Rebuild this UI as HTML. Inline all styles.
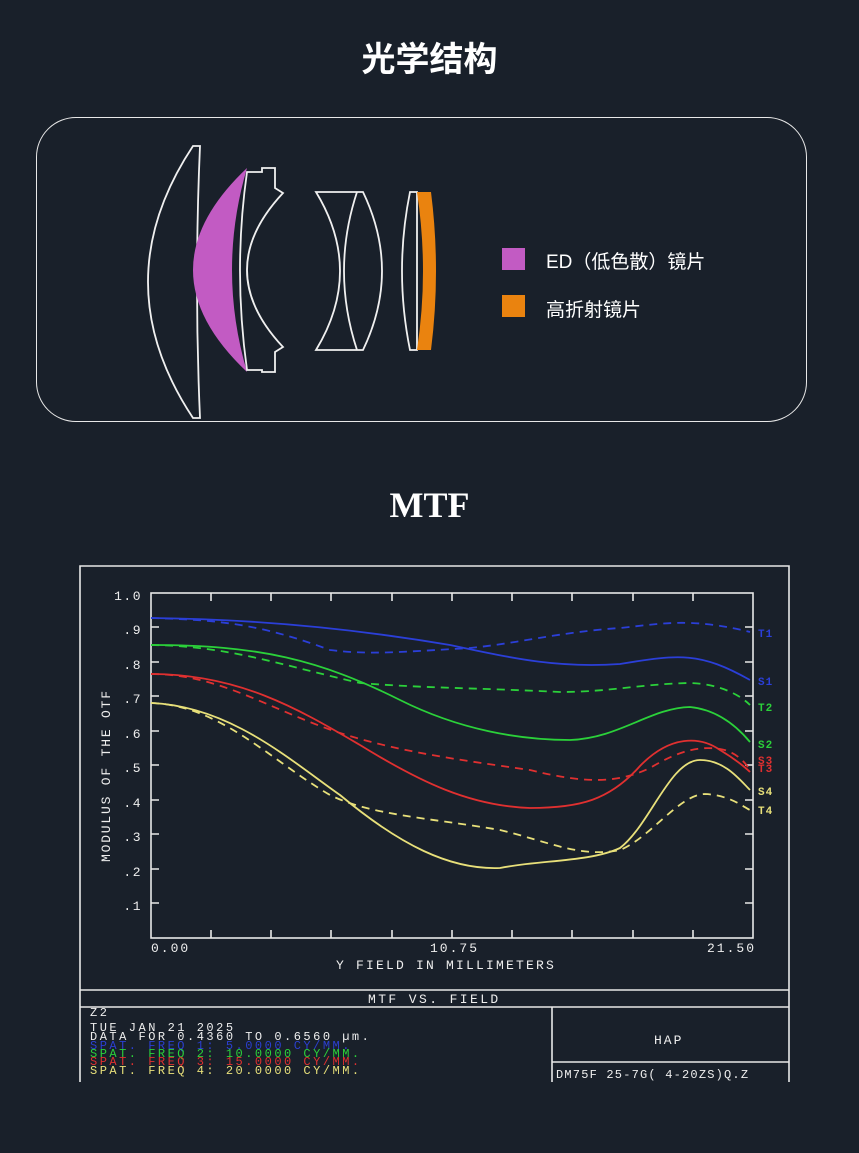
<!DOCTYPE html>
<html><head><meta charset="utf-8"><style>
html,body{margin:0;padding:0;background:#19202a;}
body{width:859px;height:1153px;position:relative;overflow:hidden;}
.t{position:absolute;color:#fff;font-family:"Liberation Sans","Noto Sans CJK SC",sans-serif;}
</style></head><body>
<div class="t" style="left:0;width:859px;top:32px;text-align:center;font-size:34px;font-weight:bold;font-family:'Noto Sans CJK SC',sans-serif;">光学结构</div>
<div style="position:absolute;left:36px;top:117px;width:769px;height:303px;border:1.5px solid #e8e8e8;border-radius:40px;"></div>
<svg style="position:absolute;left:0;top:0" width="859" height="1153" fill="none" stroke="#f0f0f0" stroke-width="1.8">
<path d="M193,146 L200,146 Q194,282 200,418 L193,418 Q103,282 193,146 Z"/>
<path d="M247,168 Q139,270 247,372 Q217,270 247,168 Z" fill="#c25bc3" stroke="none"/>
<path d="M247,172 L262,172 L262,168 L275,168 L275,188 L283,193 Q211,270 283,347 L275,352 L275,372 L262,372 L262,370 L247,370 Q233,270 247,172 Z"/>
<path d="M316,192 L363,192 Q401,271 363,350 L316,350 Q364,271 316,192 Z"/>
<path d="M357,192 Q331,271 357,350"/>
<path d="M410,192 L417,192 L417,350 L410,350 Q394,271 410,192 Z"/>
<path d="M417,192 L431,192 Q441,271 431,350 L417,350 Q429,271 417,192 Z" fill="#ea830f" stroke="none"/>
</svg>
<div style="position:absolute;left:502px;top:248px;width:23px;height:22px;background:#c25bc3"></div>
<div style="position:absolute;left:502px;top:295px;width:23px;height:22px;background:#ea830f"></div>
<div class="t" style="left:546px;top:247px;font-size:19px;">ED（低色散）镜片</div>
<div class="t" style="left:546px;top:295px;font-size:19px;">高折射镜片</div>
<div class="t" style="left:0;width:859px;top:484px;text-align:center;font-size:36px;font-weight:bold;font-family:'Liberation Serif',serif;">MTF</div>

<svg style="position:absolute;left:0;top:0" width="859" height="1153" font-family="Liberation Mono,monospace">
<g stroke="#e8e8e8" stroke-width="1.6" fill="none">
<path d="M80,1082 L80,566 L789,566 L789,1082"/>
<rect x="151" y="593" width="602" height="345"/>
<line x1="80" y1="990" x2="789" y2="990"/><line x1="80" y1="1007" x2="789" y2="1007"/>
<line x1="552" y1="1007" x2="552" y2="1082"/><line x1="552" y1="1062" x2="789" y2="1062"/>
<path d="M211,938v-8M271,938v-8M331,938v-8M392,938v-8M452,938v-8M512,938v-8M572,938v-8M633,938v-8M693,938v-8
M211,593v8M271,593v8M331,593v8M392,593v8M452,593v8M512,593v8M572,593v8M633,593v8M693,593v8
M151,903h8M151,869h8M151,834h8M151,800h8M151,765h8M151,731h8M151,696h8M151,662h8M151,627h8
M753,903h-8M753,869h-8M753,834h-8M753,800h-8M753,765h-8M753,731h-8M753,696h-8M753,662h-8M753,627h-8"/>
</g>
<g fill="#eee" font-size="13" text-anchor="end" letter-spacing="1.5">
<text x="142" y="600">1.0</text><text x="142" y="634">.9</text><text x="142" y="669">.8</text><text x="142" y="703">.7</text><text x="142" y="738">.6</text><text x="142" y="772">.5</text><text x="142" y="807">.4</text><text x="142" y="841">.3</text><text x="142" y="876">.2</text><text x="142" y="910">.1</text>
</g>
<g fill="#eee" font-size="13" letter-spacing="2">
<text x="151" y="952">0.00</text><text x="430" y="952">10.75</text><text x="707" y="952">21.50</text>
<text x="336" y="969" letter-spacing="2.2">Y FIELD IN MILLIMETERS</text>
<text x="110" y="862" transform="rotate(-90 110 862)" letter-spacing="1.8">MODULUS OF THE OTF</text>
<text x="368" y="1003" letter-spacing="2.4">MTF VS. FIELD</text>
<text x="654" y="1044">HAP</text>
<text x="556" y="1078" font-size="12" letter-spacing="1.2">DM75F  25-7G(   4-20ZS)Q.Z</text>
</g>
<g font-size="12" fill="#eee" letter-spacing="2.5">
<text x="90" y="1016">Z2</text>
<text x="90" y="1031">TUE JAN 21 2025</text>
<text x="90" y="1040">DATA FOR 0.4360 TO 0.6560 µm.</text>
<text x="90" y="1049" fill="#2b3fd0">SPAT. FREQ 1:   5.0000 CY/MM.</text>
<text x="90" y="1057" fill="#2bd13a">SPAT. FREQ 2:  10.0000 CY/MM.</text>
<text x="90" y="1065" fill="#e03030">SPAT. FREQ 3:  15.0000 CY/MM.</text>
<text x="90" y="1074" fill="#e8e07a">SPAT. FREQ 4:  20.0000 CY/MM.</text>
</g>
<g fill="none" stroke-width="1.8">
<path stroke="#2b3fd8" stroke-dasharray="8,6" d="M151,618 C220,620 260,624 330,650 C370,655 400,652 470,648 C520,643 560,632 620,628 C660,624 690,617 750,632"/>
<path stroke="#2b3fd8" d="M151,618 C250,619 350,628 450,645 C520,660 560,668 620,664 C680,654 700,652 750,680"/>
<path stroke="#2bd13a" stroke-dasharray="8,6" d="M151,645 C230,646 280,665 360,683 C420,688 480,688 560,692 C610,692 640,684 690,683 C720,684 740,695 750,705"/>
<path stroke="#2bd13a" d="M151,645 C260,645 320,660 400,700 C460,730 520,740 570,740 C620,738 650,708 690,707 C720,710 740,730 750,742"/>
<path stroke="#e03030" stroke-dasharray="8,6" d="M151,674 C220,674 270,710 340,733 C400,752 460,760 530,770 C590,785 620,782 650,768 C680,750 700,746 720,749 C740,752 750,770 750,770"/>
<path stroke="#e03030" d="M151,674 C240,674 300,710 360,745 C420,782 470,806 530,808 C580,808 610,800 640,766 C670,735 700,736 720,750 C740,762 750,772 750,772"/>
<path stroke="#e8e07a" stroke-dasharray="8,6" d="M151,703 C220,705 270,760 330,795 C370,815 430,818 500,830 C550,842 580,858 620,850 C650,838 680,794 705,794 C730,795 745,808 750,810"/>
<path stroke="#e8e07a" d="M151,703 C230,706 290,760 340,795 C400,845 450,870 500,868 C540,860 590,862 620,848 C650,825 670,760 700,760 C725,760 740,780 750,790"/>
</g>
<g font-size="11" font-weight="bold" letter-spacing="1">
<text x="758" y="637" fill="#2b3fd8">T1</text><text x="758" y="685" fill="#2b3fd8">S1</text>
<text x="758" y="711" fill="#2bd13a">T2</text><text x="758" y="748" fill="#2bd13a">S2</text>
<text x="758" y="764" fill="#e03030">S3</text><text x="758" y="772" fill="#e03030">T3</text>
<text x="758" y="795" fill="#e8e07a">S4</text><text x="758" y="814" fill="#e8e07a">T4</text>
</g>
</svg>
</body></html>
